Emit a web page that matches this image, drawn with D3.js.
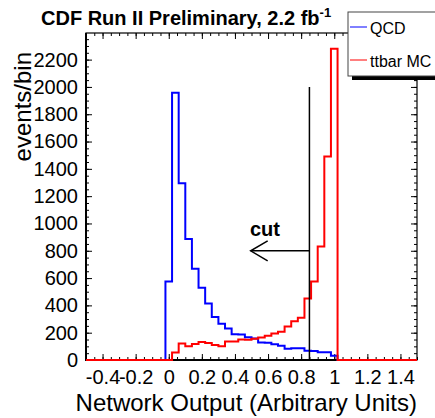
<!DOCTYPE html>
<html>
<head>
<meta charset="utf-8">
<script src="https://cdn.jsdelivr.net/npm/d3@7"></script>
<style>
  body { margin: 0; background: #fff; }
  svg text { font-family: "Liberation Sans", Arial, Helvetica, sans-serif; fill: #000; }
</style>
</head>
<body>
<svg id="chart" width="435" height="418"></svg>
<script>
// bin centres of the network output histogram (bin width 0.04)
var binCenters = [0.00, 0.04, 0.08, 0.12, 0.16, 0.20, 0.24, 0.28, 0.32, 0.36, 0.40, 0.44, 0.48,
                  0.52, 0.56, 0.60, 0.64, 0.68, 0.72, 0.76, 0.80, 0.84, 0.88, 0.92, 0.96, 1.00];
var binWidth = 0.04;

// events per bin
var qcd   = [575, 1957, 1294, 886, 668, 530, 413, 315, 265, 230, 188, 186, 167,
             157, 128, 127, 115, 105, 83, 86, 86, 68, 66, 56, 56, 32];
var ttbar = [0, 55, 120, 100, 118, 132, 124, 110, 100, 135, 135, 150, 148,
             155, 165, 178, 195, 207, 245, 283, 310, 450, 575, 832, 1490, 2280];

var xTicks = [-0.4, -0.2, 0, 0.2, 0.4, 0.6, 0.8, 1, 1.2, 1.4];
var yTicks = [0, 200, 400, 600, 800, 1000, 1200, 1400, 1600, 1800, 2000, 2200];

// the cut annotation
var cutX = 0.85, cutTop = 2000, arrowY = 800, arrowTip = 0.495;

var svg = d3.select("#chart");
var pLeft = 86, pRight = 417, pTop = 33, pBottom = 360;

var x = d3.scaleLinear().domain([-0.5, 1.5]).range([pLeft, pRight]);
var y = d3.scaleLinear().domain([0, 2395]).range([pBottom, pTop]);

// minor ticks (inward, all four sides)
var xMinor = d3.range(-0.5, 1.5001, 0.05);
var yMinor = d3.range(0, 2351, 50);

function noDomain(g) { g.select(".domain").remove(); }

svg.append("g").attr("transform", "translate(0," + pBottom + ")")
    .call(d3.axisBottom(x).tickValues(xMinor).tickSize(-3).tickFormat("")).call(noDomain);
svg.append("g").attr("transform", "translate(0," + pTop + ")")
    .call(d3.axisTop(x).tickValues(xMinor).tickSize(-3).tickFormat("")).call(noDomain);
svg.append("g").attr("transform", "translate(" + pLeft + ",0)")
    .call(d3.axisLeft(y).tickValues(yMinor).tickSize(-3).tickFormat("")).call(noDomain);
svg.append("g").attr("transform", "translate(" + pRight + ",0)")
    .call(d3.axisRight(y).tickValues(yMinor).tickSize(-3).tickFormat("")).call(noDomain);

// major ticks with labels
var xAxis = svg.append("g").attr("transform", "translate(0," + pBottom + ")")
    .call(d3.axisBottom(x).tickValues(xTicks).tickSize(-6).tickPadding(10)
        .tickFormat(function(d) { return String(+d.toFixed(1)); }))
    .call(noDomain);
svg.append("g").attr("transform", "translate(0," + pTop + ")")
    .call(d3.axisTop(x).tickValues(xTicks).tickSize(-6).tickFormat("")).call(noDomain);
var yAxis = svg.append("g").attr("transform", "translate(" + pLeft + ",0)")
    .call(d3.axisLeft(y).tickValues(yTicks).tickSize(-6).tickPadding(8)
        .tickFormat(d3.format("d")))
    .call(noDomain);
svg.append("g").attr("transform", "translate(" + pRight + ",0)")
    .call(d3.axisRight(y).tickValues(yTicks).tickSize(-6).tickFormat("")).call(noDomain);

svg.selectAll(".tick line").attr("stroke", "#000").attr("stroke-width", 1);
xAxis.selectAll("text").style("font-size", "20px");
yAxis.selectAll("text").style("font-size", "20px");

// frame
svg.append("rect")
    .attr("x", pLeft).attr("y", pTop)
    .attr("width", pRight - pLeft).attr("height", pBottom - pTop)
    .attr("fill", "none").attr("stroke", "#000").attr("stroke-width", 1.2);
svg.append("path")
    .attr("d", "M" + pLeft + "," + pTop + "V" + pBottom + "H" + pRight)
    .attr("fill", "none").attr("stroke", "#000").attr("stroke-width", 2);

// histograms
function histPoints(vals) {
    var pts = [[x.domain()[0], 0]];
    vals.forEach(function(v, i) { pts.push([binCenters[i] - binWidth / 2, v]); });
    pts.push([binCenters[binCenters.length - 1] + binWidth / 2, 0]);
    pts.push([x.domain()[1], 0]);
    return pts;
}
var step = d3.line()
    .x(function(d) { return x(d[0]); })
    .y(function(d) { return y(d[1]); })
    .curve(d3.curveStepAfter);

svg.append("path").attr("d", step(histPoints(qcd)))
    .attr("fill", "none").attr("stroke", "#0000ff").attr("stroke-width", 2);
svg.append("path").attr("d", step(histPoints(ttbar)))
    .attr("fill", "none").attr("stroke", "#ff0000").attr("stroke-width", 2);

// cut line and arrow
svg.append("line")
    .attr("x1", x(cutX)).attr("x2", x(cutX))
    .attr("y1", y(cutTop)).attr("y2", y(0))
    .attr("stroke", "#000").attr("stroke-width", 1.5);
svg.append("line")
    .attr("x1", x(cutX)).attr("x2", x(arrowTip))
    .attr("y1", y(arrowY)).attr("y2", y(arrowY))
    .attr("stroke", "#000").attr("stroke-width", 1.5);
svg.append("path")
    .attr("d", "M" + (x(arrowTip) + 17) + "," + (y(arrowY) - 10) +
               "L" + x(arrowTip) + "," + y(arrowY) +
               "L" + (x(arrowTip) + 17) + "," + (y(arrowY) + 10))
    .attr("fill", "none").attr("stroke", "#000").attr("stroke-width", 1.5);
svg.append("text")
    .attr("x", 250).attr("y", 236)
    .style("font-size", "20px").style("font-weight", "bold")
    .text("cut");

// title
var title = svg.append("text")
    .attr("x", 41).attr("y", 25)
    .style("font-size", "20px").style("font-weight", "bold")
    .text("CDF Run II Preliminary, 2.2 fb");
title.append("tspan")
    .attr("dy", -8).style("font-size", "13px")
    .text("-1");

// axis titles
svg.append("text")
    .attr("x", pRight).attr("y", 411)
    .attr("text-anchor", "end")
    .style("font-size", "24px")
    .text("Network Output (Arbitrary Units)");
svg.append("text")
    .attr("transform", "translate(31,52) rotate(-90)")
    .attr("text-anchor", "end")
    .style("font-size", "24px")
    .text("events/bin");

// legend
var lg = svg.append("g");
lg.append("rect")
    .attr("x", 352).attr("y", 16).attr("width", 100).attr("height", 64)
    .attr("fill", "#000");
lg.append("rect")
    .attr("x", 348).attr("y", 12).attr("width", 100).attr("height", 64)
    .attr("fill", "#fff").attr("stroke", "#444").attr("stroke-width", 1);
var legendItems = [["QCD", "#0000ff"], ["ttbar MC", "#ff0000"]];
legendItems.forEach(function(d, i) {
    var ly = 27 + i * 33;
    lg.append("line")
        .attr("x1", 350).attr("x2", 367).attr("y1", ly).attr("y2", ly)
        .attr("stroke", d[1]).attr("stroke-width", 1);
    lg.append("text")
        .attr("x", 370).attr("y", ly + 7)
        .style("font-size", "16px")
        .text(d[0]);
});
</script>
</body>
</html>
